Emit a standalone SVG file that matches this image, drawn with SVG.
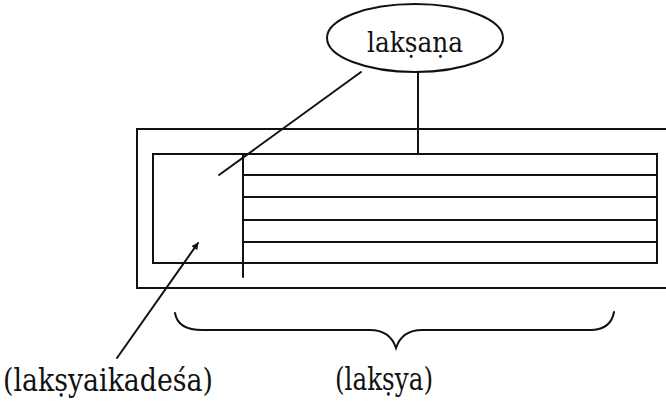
<svg xmlns="http://www.w3.org/2000/svg" width="666" height="401" viewBox="0 0 666 401">
<style>
.ln{fill:none;stroke:#111;stroke-width:2;stroke-linecap:round}
.tx{font-family:"DejaVu Serif","Liberation Serif",serif;fill:#111}
</style>
<defs>
<marker id="ah" viewBox="0 0 10 10" refX="9" refY="5" markerWidth="7" markerHeight="7" markerUnits="userSpaceOnUse" orient="auto">
<path d="M0,0 L10,5 L0,10 Z" fill="#111"/>
</marker>
</defs>
<rect width="666" height="401" fill="#fff"/>
<g id="lakshana">
<ellipse class="ln" cx="415" cy="38" rx="88" ry="34"/>
<text class="tx" x="415" y="52" font-size="28" text-anchor="middle" textLength="96" lengthAdjust="spacingAndGlyphs">lakṣaṇa</text>
</g>
<g id="frame">
<path class="ln" d="M666,129 H137 V288 H666"/>
<rect class="ln" x="153" y="154" width="504" height="109"/>
<line class="ln" x1="243" y1="154" x2="243" y2="277"/>
<line class="ln" x1="243" y1="175" x2="657" y2="175"/>
<line class="ln" x1="243" y1="197" x2="657" y2="197"/>
<line class="ln" x1="243" y1="220" x2="657" y2="220"/>
<line class="ln" x1="243" y1="242" x2="657" y2="242"/>
</g>
<g id="brace">
<path class="ln" d="M175,313 Q178,331 205,330 H370 Q390,330 396,348 Q402,330 422,330 H592 Q611,329 614,312"/>
</g>
<g id="labels">
<text class="tx" x="3" y="391" font-size="31" textLength="210" lengthAdjust="spacingAndGlyphs">(lakṣyaikadeśa)</text>
<text class="tx" x="335" y="390" font-size="31" textLength="98" lengthAdjust="spacingAndGlyphs">(lakṣya)</text>
</g>
<g id="connectors">
<line class="ln" x1="361" y1="72" x2="219" y2="175"/>
<line class="ln" x1="418" y1="72" x2="418" y2="154"/>
<line class="ln" x1="117" y1="358" x2="198" y2="243" marker-end="url(#ah)"/>
</g>
</svg>
